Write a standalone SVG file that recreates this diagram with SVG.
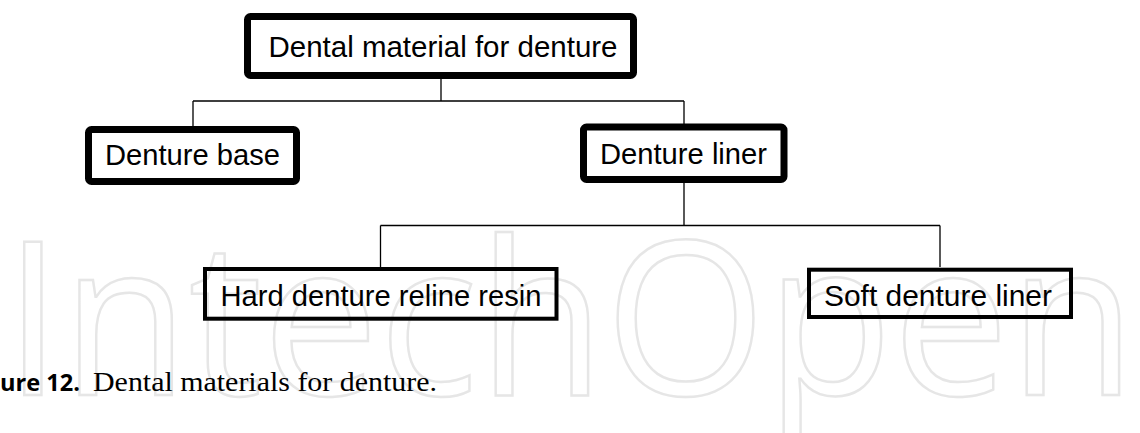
<svg xmlns="http://www.w3.org/2000/svg" width="1140" height="433" viewBox="0 0 1140 433">
<style>
.wm{font-family:"Open Sans","Liberation Sans",sans-serif;font-size:215px;fill:none;stroke:#e6e6e6;stroke-width:2.5}
.lbl{font-family:"Liberation Sans",Arial,sans-serif;font-size:29.5px;fill:#000;text-anchor:middle}
.b1{fill:none;stroke:#000;stroke-width:7}
.b2{fill:none;stroke:#000;stroke-width:4}
.con{fill:none;stroke:#000;stroke-width:1.3}
.capb{font-family:"Open Sans","Liberation Sans",sans-serif;font-weight:bold;font-size:24px;fill:#000}
.caps{font-family:"Liberation Serif","Times New Roman",serif;font-size:27px;fill:#000}
</style>
<rect width="1140" height="433" fill="#fff"/>
<text class="wm" x="4" y="395" textLength="1132" lengthAdjust="spacingAndGlyphs">IntechOpen</text>
<g id="connectors">
<path class="con" d="M441,79 V101 M193,101 H684 M193,101 V126 M684,101 V124"/>
<path class="con" d="M684,183 V225.5 M380.5,225.5 H940 M380.5,225.5 V267 M940,225.5 V267"/>
</g>
<g id="node-root">
<rect class="b1" x="247.5" y="16.5" width="386" height="59" rx="3"/>
<text class="lbl" x="443" y="57" textLength="349" lengthAdjust="spacingAndGlyphs">Dental material for denture</text>
</g>
<g id="node-base">
<rect class="b1" x="88.5" y="129.5" width="208" height="52" rx="3"/>
<text class="lbl" x="192.5" y="165" textLength="175" lengthAdjust="spacingAndGlyphs">Denture base</text>
</g>
<g id="node-liner">
<rect class="b1" x="583.5" y="127" width="200.5" height="52.5" rx="3"/>
<text class="lbl" x="683.5" y="164" textLength="167" lengthAdjust="spacingAndGlyphs">Denture liner</text>
</g>
<g id="node-hard">
<rect class="b2" x="205" y="269" width="351.5" height="49.7"/>
<text class="lbl" x="381" y="305.5" textLength="321" lengthAdjust="spacingAndGlyphs">Hard denture reline resin</text>
</g>
<g id="node-soft">
<rect class="b2" x="809" y="269.7" width="262" height="47.3"/>
<text class="lbl" x="938" y="306" textLength="228" lengthAdjust="spacingAndGlyphs">Soft denture liner</text>
</g>
<text x="0" y="391"><tspan class="capb" textLength="80" lengthAdjust="spacingAndGlyphs">ure 12.</tspan></text>
<text class="caps" x="93" y="391" textLength="344" lengthAdjust="spacingAndGlyphs">Dental materials for denture.</text>
</svg>
